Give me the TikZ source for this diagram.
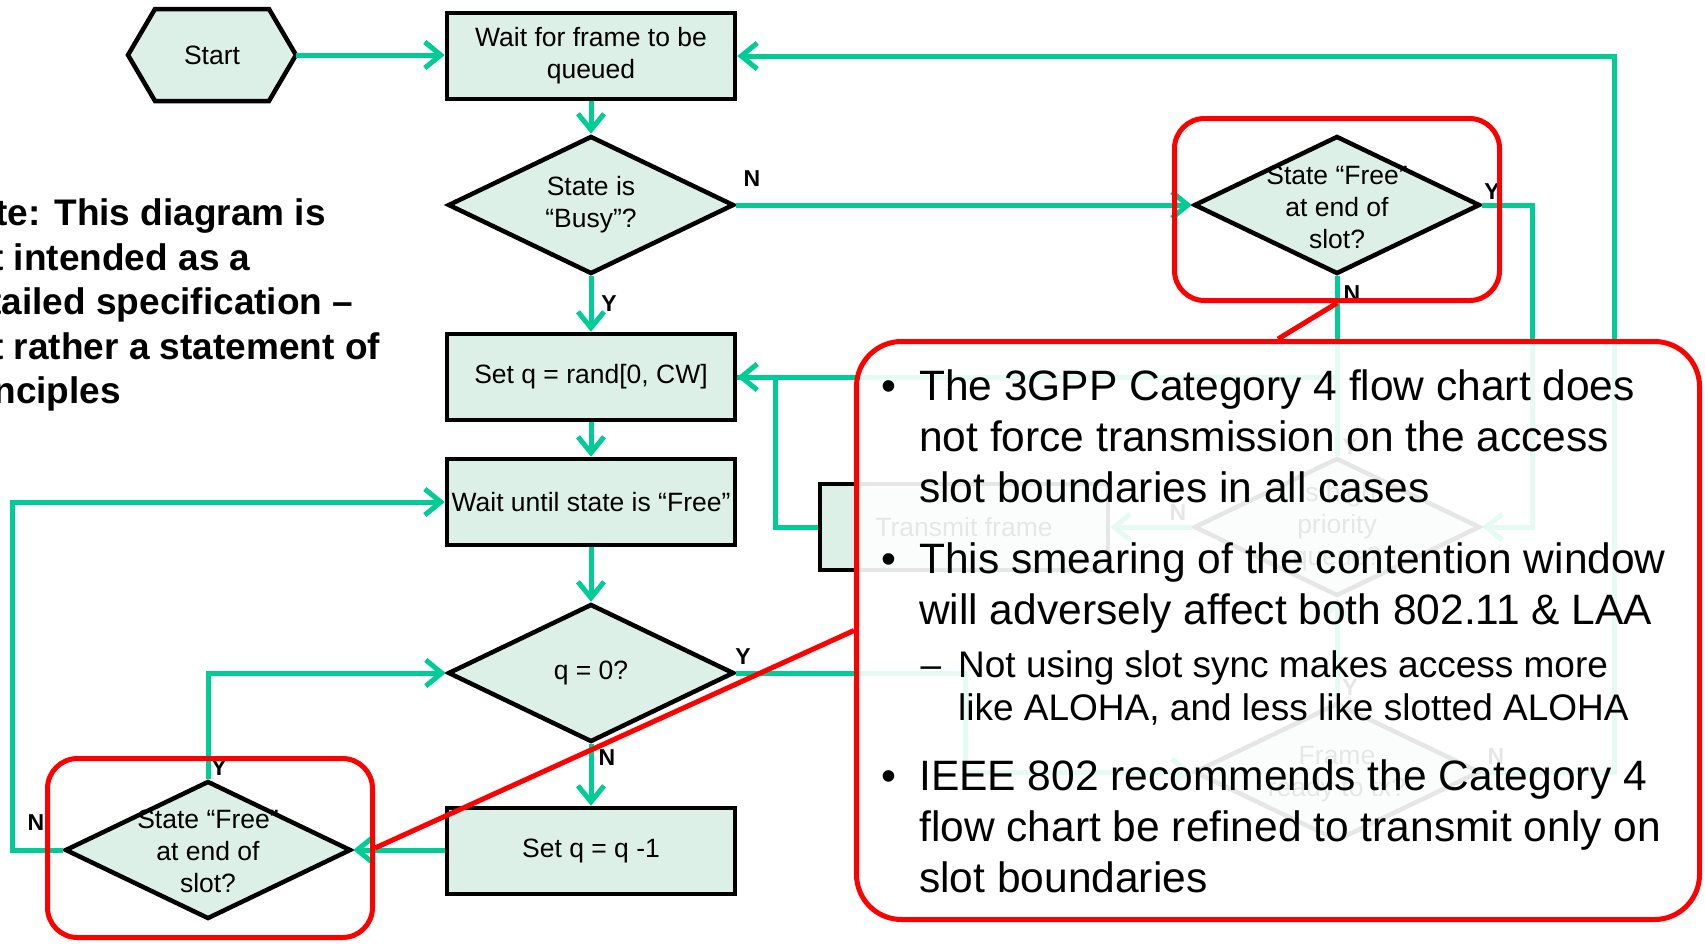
\documentclass[tikz,border=0pt]{standalone}
\usepackage{fontspec}
\setmainfont{Liberation Sans}
\usetikzlibrary{arrows.meta,shapes.geometric}

\definecolor{flowgreen}{RGB}{0,204,150}
\definecolor{mint}{RGB}{221,240,232}
\definecolor{callred}{RGB}{255,0,0}

\newcommand\nodefont{\fontsize{26.5}{32}\selectfont}
\newcommand\lblfont{\fontsize{23}{27}\selectfont\bfseries}
\newcommand\notefont{\fontsize{37}{44.6}\selectfont\bfseries}
\newcommand\calloutfont{\fontsize{42.5}{51}\selectfont}
\newcommand\subfont{\fontsize{37}{43.5}\selectfont}

\tikzset{
  box/.style={draw=black, line width=4.5pt, fill=mint, minimum width=288pt,
    minimum height=86pt, inner sep=2pt, align=center, font=\nodefont},
  dia/.style={draw=black, line width=4.5pt, fill=mint, diamond,
    minimum width=286pt, minimum height=138pt, inner sep=0pt},
  dtext/.style={align=center, font=\nodefont, inner sep=0pt},
  flow/.style={draw=flowgreen, line width=5pt},
  arr/.style={flow, -{Straight Barb[length=16pt,width=26pt]}},
  yn/.style={font=\lblfont, inner sep=0pt},
  ring/.style={draw=callred, line width=5pt, rounded corners=30pt},
  pointer/.style={draw=callred, line width=5pt},
  line/.style={anchor=base west, inner sep=0pt},
}

\begin{document}
\begin{tikzpicture}[x=1pt, y=-1pt]
\useasboundingbox (0,0) rectangle (1705,943);
\clip (0,0) rectangle (1705,943);

% side note
\node[line, font=\notefont] at (-54,225) {Note: This diagram is};
\node[line, font=\notefont] at (-54,270) {not intended as a};
\node[line, font=\notefont] at (-54,314) {detailed specification –};
\node[line, font=\notefont] at (-54,359) {but rather a statement of};
\node[line, font=\notefont] at (-54,403) {principles};

% start terminal
\draw[black, line width=4.5pt, fill=mint]
  (128,55) -- (155,9) -- (269,9) -- (296,55) -- (269,101) -- (155,101) -- cycle;
\node[dtext, minimum width=168pt, minimum height=92pt] (start) at (212,55) {Start};

% main column
\node[box] (wait) at (591,56) {Wait for frame to be\\queued};
\node[dia] (busy) at (591,205) {};
\node[dtext] at (busy) {State is\\“Busy”?};
\node[box] (setq) at (591,377) {Set q = rand[0, CW]};
\node[box] (waitfree) at (591,502) {Wait until state is “Free”};
\node[dia] (qzero) at (591,673) {};
\node[dtext] at (qzero) {q = 0?};
\node[box] (dec) at (591,851) {Set q = q -1};

% slot checks
\node[dia] (slotL) at (208,850) {};
\node[dtext] at (208,851) {State “Free”\\at end of\\slot?};
\node[dia] (slotR) at (1337,205) {};
\node[dtext] at (1337,207) {State “Free”\\at end of\\slot?};

% transmit branch
\node[box] (tx) at (964,527) {Transmit frame};
\node[dia] (prio) at (1337,527) {};
\node[dtext] at (prio) {Is high\\priority\\queue?};
\node[dia] (ready) at (1337,772) {};
\node[dtext] at (1337,774) {Frame\\ready to tx?};

% connectors
\draw[arr] (start.east) -- (wait.west |- start.east);
\draw[arr] (wait.south) -- (busy.north);
\draw[arr] (busy.east) -- (slotR.west);
\draw[arr] (busy.south) -- (setq.north);
\draw[arr] (setq.south) -- (waitfree.north);
\draw[arr] (waitfree.south) -- (qzero.north);
\draw[arr] (qzero.south) -- (dec.north);
\draw[arr] (dec.west |- slotL.east) -- (slotL.east);
\draw[arr] (slotL.north) |- (qzero.west);
\draw[arr] (slotL.west) -- ++(-50,0) |- (waitfree.west);
\draw[arr] (slotR.east) -- ++(50,0) |- (prio.east);
\draw[flow] (prio.north) -- (prio.north |- setq.east);
\draw[flow] (tx.west) -- ++(-42,0) |- (setq.east);
\draw[arr] (slotR.south) |- (setq.east);
\draw[arr] (prio.west) -- (tx.east);
\draw[arr] (qzero.east) -- ++(229,0) |- (ready.west);
\draw[arr] (ready.north) -- (prio.south);
\draw[arr] (ready.east) -- ++(132,0) |- (wait.east);

% branch labels
\node[yn] at (752,179) {N};
\node[yn] at (609,304) {Y};
\node[yn] at (743,657) {Y};
\node[yn] at (607,758) {N};
\node[yn] at (219,768) {Y};
\node[yn] at (36,823) {N};
\node[yn] at (1492,192) {Y};
\node[yn] at (1352,294) {N};
\node[yn] at (1178,513) {N};
\node[yn] at (1350,447) {Y};
\node[yn] at (1350,688) {Y};
\node[yn] at (1496,757) {N};

% comment panel
\node[draw=callred, line width=5pt, fill=white, fill opacity=0.9,
  rounded corners=45pt, minimum width=843pt, minimum height=578pt]
  (note) at (1278,630.5) {};
\node[ring, minimum width=325pt, minimum height=182pt] (focusR) at (1337,209.5) {};
\node[ring, minimum width=325pt, minimum height=179pt] (focusL) at (210,848) {};
\draw[pointer] (focusR.south) -- (note.north);
\draw[pointer] (focusL.east) -- (note.west);

% panel text
\node[anchor=base, inner sep=0pt, font=\calloutfont] at (889,400) {•};
\node[line, font=\calloutfont] at (919,400) {The 3GPP Category 4 flow chart does};
\node[line, font=\calloutfont] at (919,451) {not force transmission on the access};
\node[line, font=\calloutfont] at (919,502) {slot boundaries in all cases};
\node[anchor=base, inner sep=0pt, font=\calloutfont] at (889,573) {•};
\node[line, font=\calloutfont] at (919,573) {This smearing of the contention window};
\node[line, font=\calloutfont] at (919,624) {will adversely affect both 802.11 \& LAA};
\node[anchor=base, inner sep=0pt, font=\subfont] at (931,677) {–};
\node[line, font=\subfont] at (958,677) {Not using slot sync makes access more};
\node[line, font=\subfont] at (958,720) {like ALOHA, and less like slotted ALOHA};
\node[anchor=base, inner sep=0pt, font=\calloutfont] at (889,790) {•};
\node[line, font=\calloutfont] at (919,790) {IEEE 802 recommends the Category 4};
\node[line, font=\calloutfont] at (919,841) {flow chart be refined to transmit only on};
\node[line, font=\calloutfont] at (919,892) {slot boundaries};
\end{tikzpicture}
\end{document}
